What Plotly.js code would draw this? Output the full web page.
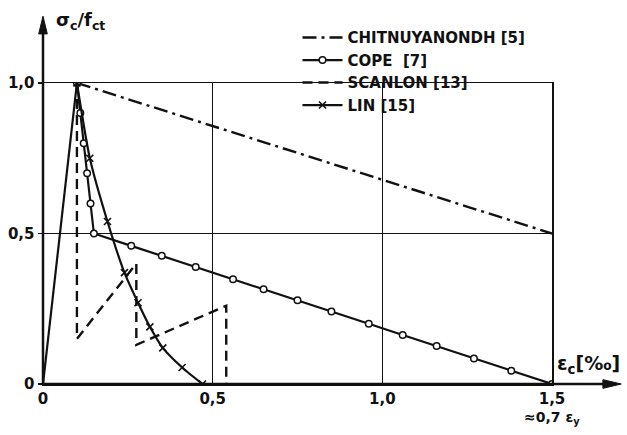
<!DOCTYPE html>
<html>
<head>
<meta charset="utf-8">
<script src="https://cdn.plot.ly/plotly-3.0.1.min.js"></script>
<style>html,body{margin:0;padding:0;background:#fff;}#chart{width:627px;height:435px;}</style>
</head>
<body>
<div id="chart"></div>
<script>
// Shared ascending (linear-elastic) branch
const riseX = [0, 0.1];
const riseY = [0, 1.0];

// CHITNUYANONDH [5]
const chitX = [0.1, 1.5];
const chitY = [1.0, 0.5];

// COPE [7]
const copeX = [0.1, 0.11, 0.12, 0.13, 0.14, 0.15, 0.26, 0.35, 0.45, 0.56, 0.65, 0.75, 0.85, 0.96, 1.06, 1.16, 1.27, 1.38, 1.5];
const copeY = [1.0, 0.9, 0.8, 0.7, 0.6, 0.5, 0.459, 0.426, 0.389, 0.348, 0.315, 0.278, 0.241, 0.2, 0.163, 0.126, 0.085, 0.044, 0];

// SCANLON [13]
const scanX = [0.1, 0.1, 0.275, 0.275, 0.54, 0.54];
const scanY = [1.0, 0.15, 0.40, 0.13, 0.26, 0];

// LIN [15]
const linX = [0.1, 0.138, 0.19, 0.24, 0.28, 0.315, 0.353, 0.41, 0.47];
const linY = [1.0, 0.75, 0.54, 0.37, 0.27, 0.19, 0.12, 0.055, 0];

// Axis ticks
const xTickVals = [0, 0.5, 1.0, 1.5];
const xTickText = ["0", "0,5", "1,0", "1,5"];
const yTickVals = [0, 0.5, 1.0];
const yTickText = ["0", "0,5", "1,0"];

const FONT = "DejaVu Sans, sans-serif";
const K = "#111";

const traces = [
  {x: riseX, y: riseY, mode: "lines", line: {color: K, width: 2.2}, showlegend: false, hoverinfo: "skip"},
  {x: chitX, y: chitY, mode: "lines", name: "CHITNUYANONDH [5]",
   line: {color: K, width: 2.4, dash: "14px,5px,3px,5px"}},
  {x: copeX, y: copeY, mode: "lines+markers", name: "COPE  [7]",
   line: {color: K, width: 2.2},
   marker: {symbol: "circle", size: 6.5, color: "#fff", line: {color: K, width: 1.5}}},
  {x: scanX, y: scanY, mode: "lines", name: "SCANLON [13]",
   line: {color: K, width: 2.4, dash: "10px,6px"}},
  {x: linX, y: linY, mode: "lines+markers", name: "LIN [15]",
   line: {color: K, width: 2.2, shape: "spline", smoothing: 0.6},
   marker: {symbol: "x-thin-open", size: 7, color: K, line: {color: K, width: 1.6}}}
];

const layout = {
  width: 627, height: 435,
  margin: {l: 43, r: 75, t: 83, b: 51, pad: 0},
  paper_bgcolor: "#fff", plot_bgcolor: "#fff",
  font: {family: FONT, color: K, size: 14},
  showlegend: true,
  legend: {x: 0.50, y: 1.205, xanchor: "left", yanchor: "top",
           bgcolor: "rgba(0,0,0,0)", font: {family: FONT, size: 15, color: K, weight: "bold"},
           tracegroupgap: 0, itemwidth: 40},
  xaxis: {range: [0, 1.5], tickvals: xTickVals, ticktext: xTickText,
          showgrid: true, gridcolor: K, gridwidth: 1.3, zeroline: false,
          showline: true, linecolor: K, linewidth: 1.5, mirror: true,
          ticks: "", tickfont: {family: FONT, size: 15, color: K, weight: "bold"},
          fixedrange: true},
  yaxis: {range: [0, 1.0], tickvals: yTickVals, ticktext: yTickText,
          showgrid: true, gridcolor: K, gridwidth: 1.3, zeroline: false,
          showline: true, linecolor: K, linewidth: 1.5, mirror: true,
          ticks: "outside", ticklen: 4, tickcolor: K, tickwidth: 1.5,
          tickfont: {family: FONT, size: 15, color: K, weight: "bold"},
          fixedrange: true},
  shapes: [
    {type: "line", xref: "paper", yref: "paper", x0: 0, y0: 0, x1: 0, y1: 1.18, line: {color: K, width: 2.5}, layer: "above"},
    {type: "line", xref: "paper", yref: "paper", x0: 0, y0: 0, x1: 1.11, y1: 0, line: {color: K, width: 2.5}, layer: "above"},
    {type: "path", xref: "paper", yref: "paper", path: "M -0.0085 1.163 L 0 1.222 L 0.0085 1.163 Z",
     fillcolor: K, line: {color: K, width: 1}, layer: "above"},
    {type: "path", xref: "paper", yref: "paper", path: "M 1.100 -0.0145 L 1.136 0 L 1.100 0.0145 Z",
     fillcolor: K, line: {color: K, width: 1}, layer: "above"}
  ],
  annotations: [
    {xref: "paper", yref: "paper", x: 0.022, y: 1.205, xanchor: "left", yanchor: "middle",
     text: "σ<sub>c</sub>/f<sub>ct</sub>", showarrow: false,
     font: {family: FONT, size: 18, color: K, weight: "bold"}},
    {xref: "paper", yref: "paper", x: 1.005, y: 0.015, xanchor: "left", yanchor: "bottom",
     text: "ε<sub>c</sub>[‰]", showarrow: false,
     font: {family: FONT, size: 19, color: K, weight: "bold"}},
    {xref: "x", yref: "paper", x: 1.5, y: -0.075, xanchor: "center", yanchor: "top",
     text: "≈0,7 ε<sub>y</sub>", showarrow: false,
     font: {family: FONT, size: 14, color: K, weight: "bold"}}
  ]
};

Plotly.newPlot("chart", traces, layout, {displayModeBar: false, staticPlot: true});
</script>
</body>
</html>
